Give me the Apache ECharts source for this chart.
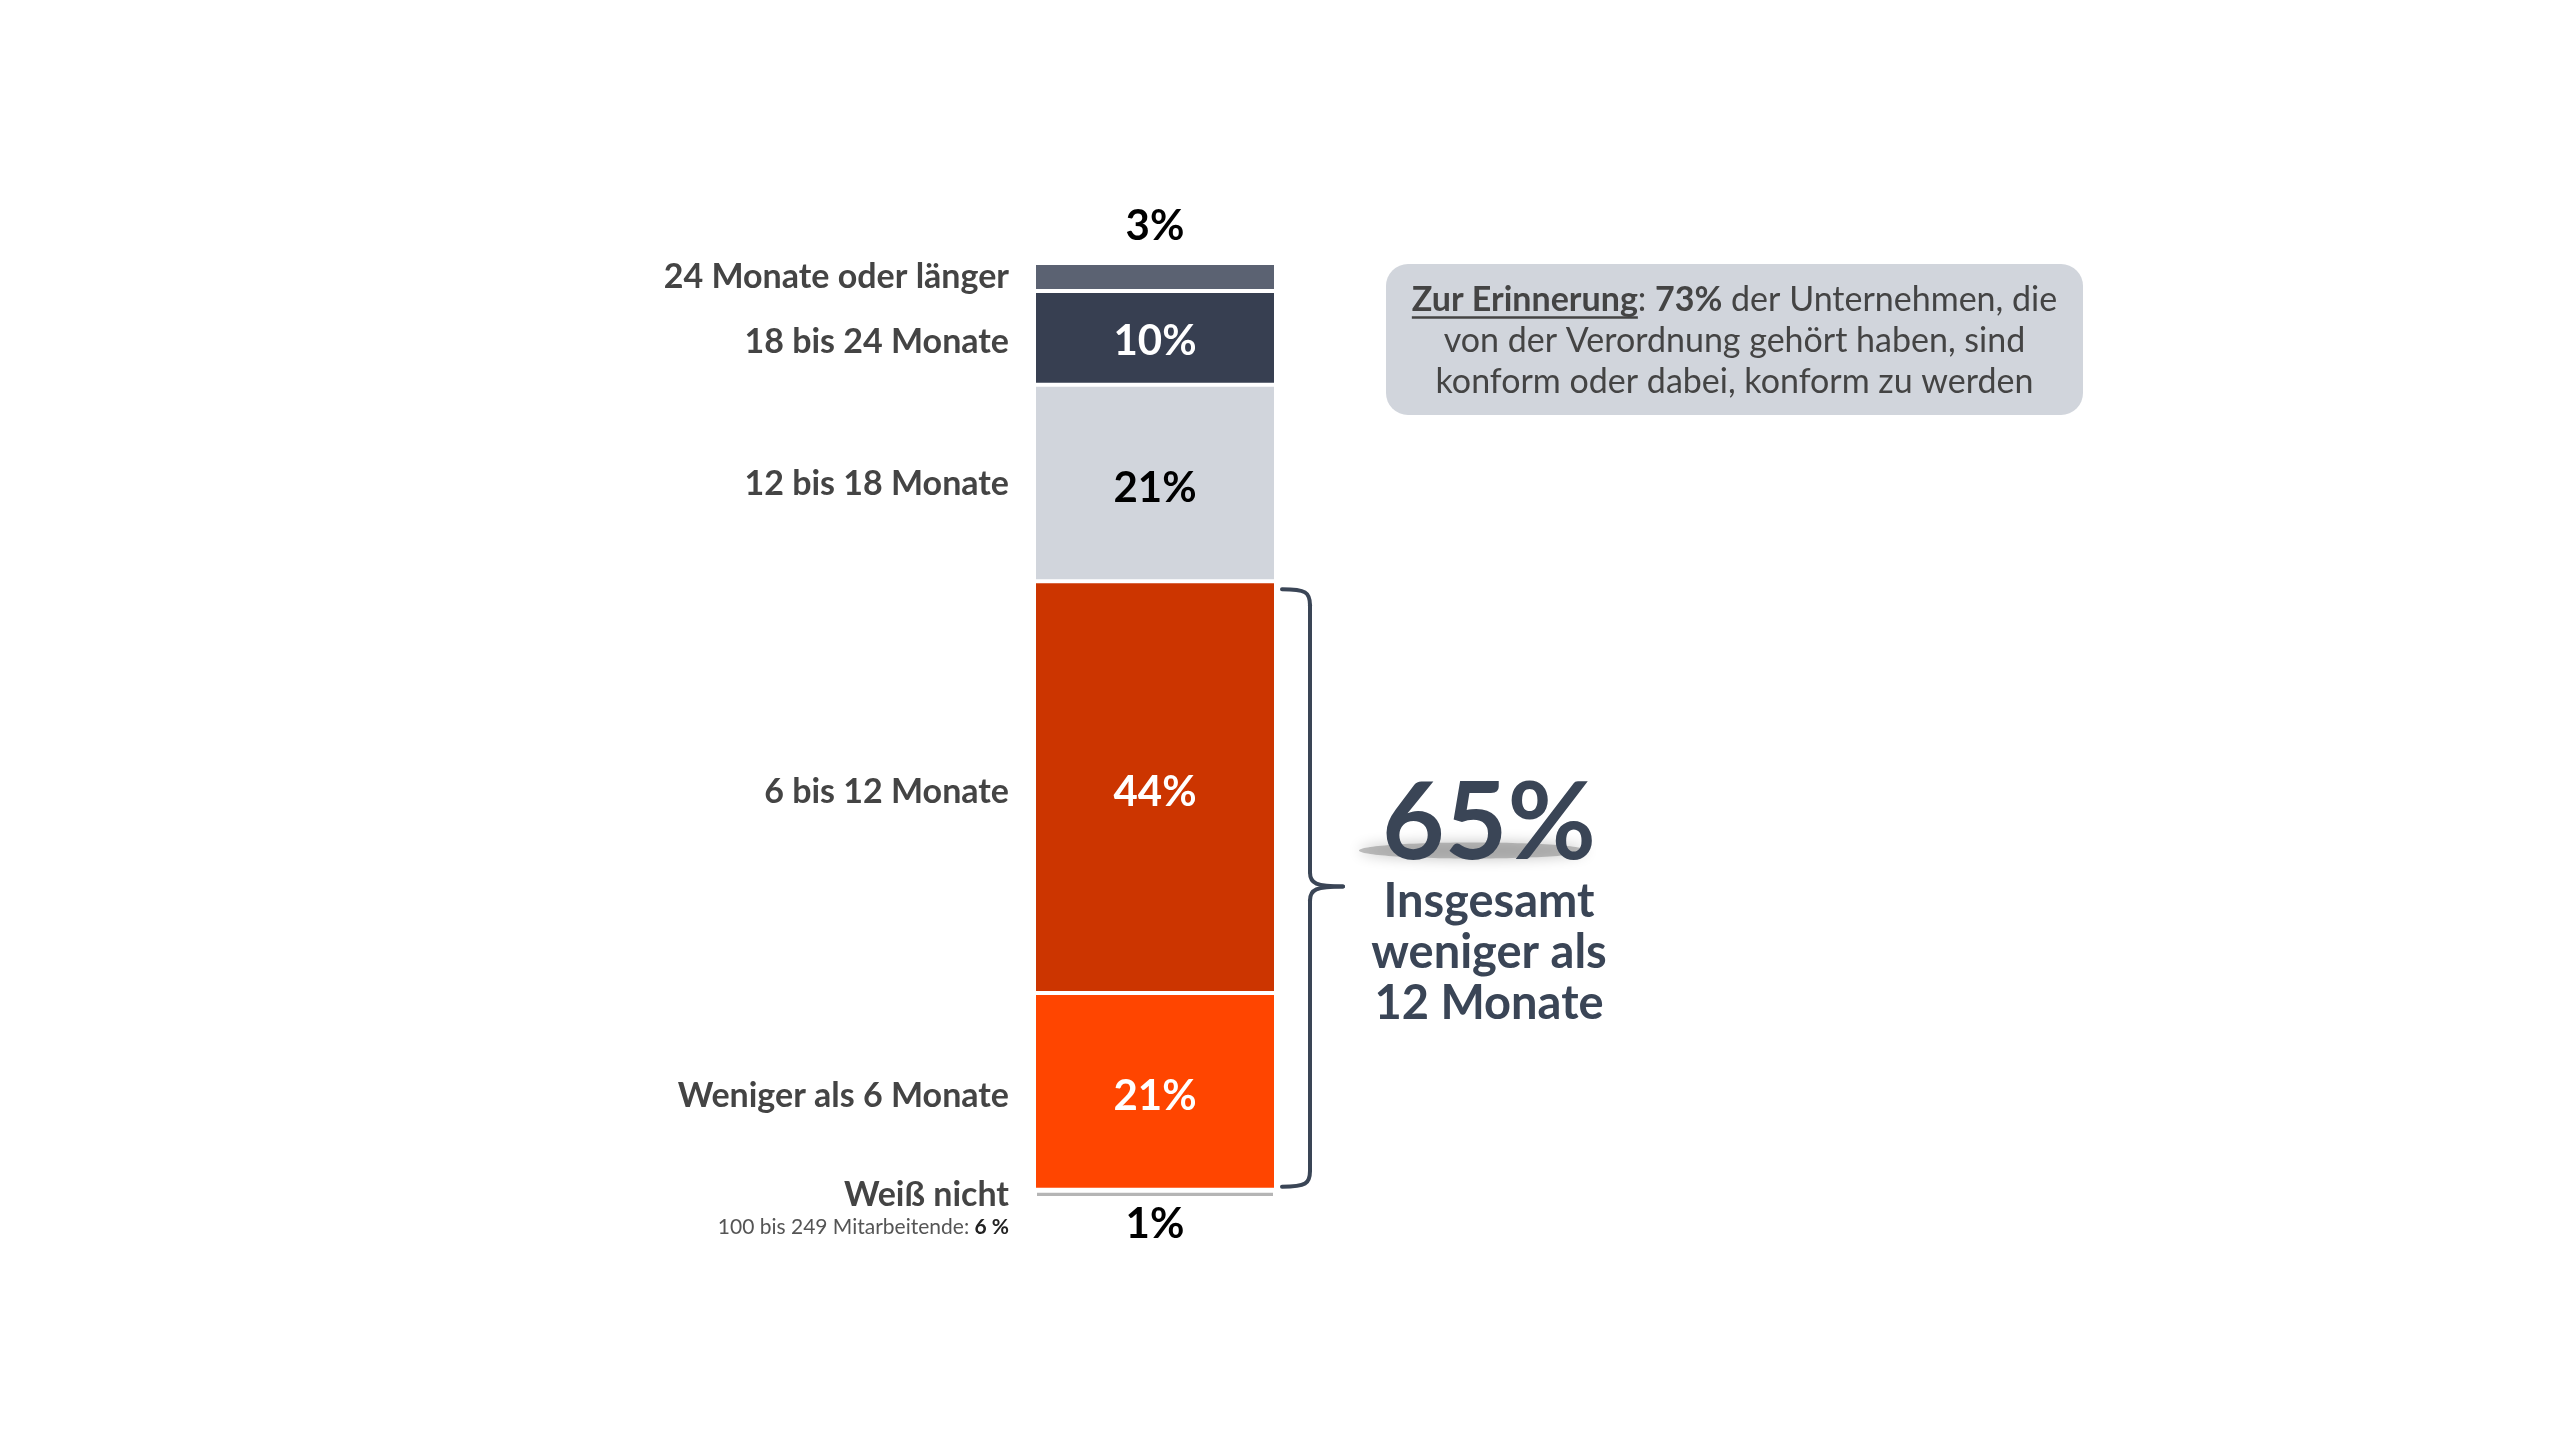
<!DOCTYPE html>
<html><head><meta charset="utf-8">
<script src="https://cdn.jsdelivr.net/npm/echarts@6/dist/echarts.min.js"></script>
<style>html,body{margin:0;padding:0;background:#fff}#c{width:2560px;height:1440px}</style>
</head><body><div id="c"></div>
<script>
// ---- data (bottom to top of the stack) ----
const categories = ['Weiß nicht', 'Weniger als 6 Monate', '6 bis 12 Monate', '12 bis 18 Monate', '18 bis 24 Monate', '24 Monate oder länger'];
const values = [1, 21, 44, 21, 10, 3];
const valueLabels = ['1%', '21%', '44%', '21%', '10%', '3%'];
const braceIdx = [1, 2];          // segments covered by the brace
const braceTotal = '65%';
const braceText = 'Insgesamt\nweniger als\n12 Monate';
const subNote = ['100 bis 249 Mitarbeitende: ', '6 %'];
const calloutLines = [['Zur Erinnerung', ': ', '73%', ' der Unternehmen, die'], 'von der Verordnung gehört haben, sind', 'konform oder dabei, konform zu werden'];

// ---- styles ----
const FONT = 'Lato';
const colors = ['#b5b5b5', '#ff4500', '#cc3500', '#d1d5dc', '#373f51', '#5b6272'];
const labelColors = ['#000', '#fff', '#fff', '#000', '#fff', '#000'];
const labelPos = ['bottom', 'inside', 'inside', 'inside', 'inside', 'top'];
const labelDist = [4, 5, 5, 5, 5, 16];
const labelOff = [0, 5, 5, 5, 4, 0];
const catOff = [1, 5, 5, 1, 4, 0];
const border = [3, 2, 2, 2, 2, 2];
const dark = '#3a4556';
const G = {left: 1034, top: 263, width: 242, height: 936};

const chart = echarts.init(document.getElementById('c'), null, {renderer: 'canvas'});
const series = values.map((v, i) => ({
  type: 'bar', stack: 's', name: categories[i], barWidth: '100%',
  data: [v],
  itemStyle: {color: colors[i], borderColor: '#fff', borderWidth: border[i]},
  label: {show: true, position: labelPos[i], distance: labelDist[i], offset: [0, labelOff[i]], formatter: valueLabels[i],
    color: labelColors[i], fontFamily: FONT, fontWeight: 'bold', fontSize: 42},
  emphasis: {disabled: true}, silent: true, animation: false
}));
chart.setOption({
  animation: false,
  backgroundColor: '#fff',
  grid: G,
  xAxis: {type: 'category', data: [''], show: false},
  yAxis: {type: 'value', min: 0, max: 100, show: false},
  series
});

// ---- annotations computed from the axes ----
const px = v => chart.convertToPixel({xAxisIndex: 0, yAxisIndex: 0}, [0, v]);
const cum = [];
values.reduce((a, v, i) => (cum[i] = a, a + v), 0);
const graphics = [];
const labelRight = G.left + 2 - 27;
categories.forEach((c, i) => {
  const y = px(cum[i] + values[i] / 2)[1] + catOff[i];
  graphics.push({type: 'text', z: 10, style: {text: c, x: labelRight, y: y, align: 'right', verticalAlign: 'middle',
    font: 'bold 34px ' + FONT, fill: '#444'}});
  if (i === 0) {
    graphics.push({type: 'text', z: 10, style: {text: '{a|' + subNote[0] + '}{b|' + subNote[1] + '}', x: labelRight, y: y + 32,
      align: 'right', verticalAlign: 'middle',
      rich: {a: {fontSize: 21, fontFamily: FONT, fill: '#555'}, b: {fontSize: 21, fontFamily: FONT, fontWeight: 'bold', fill: '#222'}}}});
  }
});

// brace
const bLo = cum[braceIdx[0]], bHi = cum[braceIdx[braceIdx.length - 1]] + values[braceIdx[braceIdx.length - 1]];
const yTop = px(bHi)[1] + 8, yBot = px(bLo)[1] - 3, yMid = px((bLo + bHi) / 2)[1] + 1;
const xs = G.left + G.width + 6, xv = xs + 28, xt = xv + 33;
const ls = {stroke: dark, lineWidth: 4, fill: 'none', lineCap: 'round'};
graphics.push(
  {type: 'bezierCurve', shape: {x1: xs, y1: yTop, cpx1: xv - 4, cpy1: yTop, cpx2: xv, cpy2: yTop + 3, x2: xv, y2: yTop + 16}, style: ls},
  {type: 'line', shape: {x1: xv, y1: yTop + 16, x2: xv, y2: yMid - 14}, style: ls},
  {type: 'bezierCurve', shape: {x1: xv, y1: yMid - 14, cpx1: xv, cpy1: yMid - 3, cpx2: xv + 6, cpy2: yMid, x2: xt, y2: yMid}, style: ls},
  {type: 'bezierCurve', shape: {x1: xt, y1: yMid, cpx1: xv + 6, cpy1: yMid, cpx2: xv, cpy2: yMid + 3, x2: xv, y2: yMid + 14}, style: ls},
  {type: 'line', shape: {x1: xv, y1: yMid + 14, x2: xv, y2: yBot - 16}, style: ls},
  {type: 'bezierCurve', shape: {x1: xv, y1: yBot - 16, cpx1: xv, cpy1: yBot - 3, cpx2: xv - 4, cpy2: yBot, x2: xs, y2: yBot}, style: ls}
);

// 65% + text
const tcx = xt + 146;
graphics.push(
  {type: 'ellipse', z: 5, shape: {cx: tcx - 16, cy: yMid - 36, rx: 114, ry: 8},
    style: {fill: 'rgba(120,120,120,0.45)', shadowBlur: 14, shadowColor: 'rgba(0,0,0,0.55)'}},
  {type: 'text', z: 10, style: {text: braceTotal, x: tcx, y: yMid - 62, align: 'center', verticalAlign: 'middle',
    font: 'bold 108px ' + FONT, fill: dark}},
  {type: 'text', z: 10, style: {text: braceText, x: tcx, y: yMid - 10, align: 'center', verticalAlign: 'top',
    font: 'bold 47px ' + FONT, fill: dark, lineHeight: 51}}
);

// callout box
const box = {x: 1386, y: 264, w: 697, h: 151};
const ccx = box.x + box.w / 2;
graphics.push({type: 'rect', z: 1, shape: {x: box.x, y: box.y, width: box.w, height: box.h, r: 22}, style: {fill: '#d1d5dc'}});
const l1 = calloutLines[0];
const cText = '{b|' + l1[0] + '}{n|' + l1[1] + '}{b|' + l1[2] + '}{n|' + l1[3] + '}\n{n|' + calloutLines[1] + '}\n{n|' + calloutLines[2] + '}';
graphics.push({type: 'text', z: 10, style: {text: cText, x: ccx, y: box.y + box.h / 2 + 2, align: 'center', verticalAlign: 'middle',
  rich: {b: {fontSize: 34, fontFamily: FONT, fontWeight: 'bold', fill: '#444', lineHeight: 41},
         n: {fontSize: 34, fontFamily: FONT, fill: '#444', lineHeight: 41}}}});
const ctx = document.createElement('canvas').getContext('2d');
const mw = (t, b) => { ctx.font = (b ? 'bold ' : '') + '34px ' + FONT; return ctx.measureText(t).width; };
const wTot = mw(l1[0], 1) + mw(l1[1]) + mw(l1[2], 1) + mw(l1[3]);
const ulX = ccx - wTot / 2, ulY = box.y + box.h / 2 + 2 - 41 + 17;
graphics.push({type: 'line', z: 10, shape: {x1: ulX, y1: ulY, x2: ulX + mw(l1[0], 1), y2: ulY}, style: {stroke: '#444', lineWidth: 2.5}});

chart.setOption({graphic: graphics});
</script></body></html>
